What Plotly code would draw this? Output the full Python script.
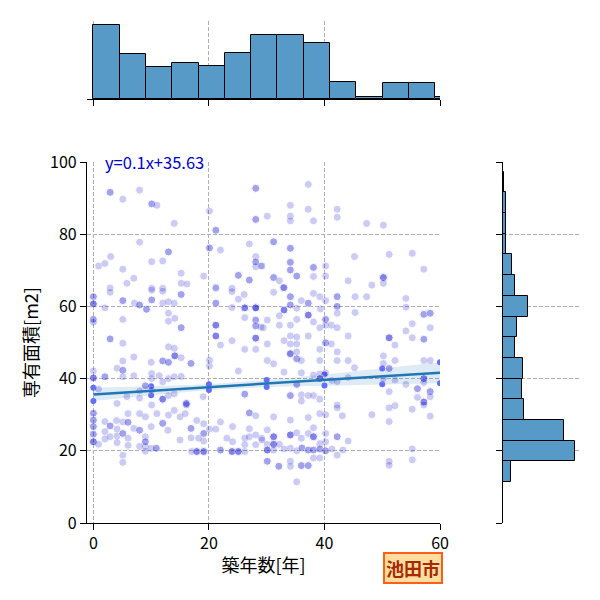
import plotly.graph_objects as go

# scatter: building age [years] vs floor area [m2]
age_years = [
    2.9, 2.9, 5.1, 8.0, 10.1, 10.1, 11.0, 14.0, 20.1, 21.2, 21.2, 28.1, 28.1, 28.1, 28.1,
    8.0, 13.0, 13.0, 20.1, 20.1, 22.0, 27.0, 28.1, 28.1, 28.1, 28.1, 29.0,
    0.9, 2.0, 3.0, 5.1, 10.1, 12.0, 7.0, 5.8, 15.2, 15.2, 16.2, 19.1, 25.1, 25.1, 27.0, 27.0,
    21.2, 24.0, 10.1, 12.0, 2.9,
    37.2, 34.1, 37.2, 30.1, 34.1, 34.1, 38.1, 42.2, 42.2, 47.3, 50.2,
    31.2, 31.2, 34.1, 34.1, 45.2, 51.2, 55.2, 57.2,
    29.2, 34.1, 34.1, 34.1, 34.1, 35.2, 35.2, 38.1, 38.1, 40.2, 38.1, 40.2,
    31.2, 31.2, 32.2, 44.1, 50.2, 50.2, 50.2, 50.2, 48.2, 33.0, 33.0,
    0, 0, 0, 0, 0, 0, 0, 0, 0, 0, 0, 0,
    2.9, 5.1, 5.1, 2.0, 7.1, 8.0, 8.0, 9.2, 9.2, 10.1, 10.1, 10.1, 12.0, 12.0, 13.0, 14.0,
    15.2, 15.2, 13.0, 14.1, 13.0, 15.2, 15.2, 5.1,
    2.9, 2.9, 5.1, 13.0, 14.0, 14.1, 14.1, 14.1, 12.0, 12.0, 13.0, 13.0, 15.2, 16.9, 16.9,
    7.0, 5.1, 10.0,
    4.1, 5.1, 5.1, 7.0, 5.1, 2.0, 2.0, 10.1, 10.1, 11.4, 13.0, 14.0, 15.2, 12.0, 9.0, 9.0,
    0.9, 8.0, 8.0, 5.8, 10.1,
    12.0, 12.0, 12.0, 13.0, 14.0, 16.1, 16.1, 16.1, 4.1, 10.1, 19.0, 20.1, 20.1,
    21.2, 21.2, 21.2, 21.2, 21.2, 21.2, 21.2, 21.2, 21.2, 22.0, 24.0, 25.1, 26.1, 24.0,
    26.2, 26.2, 26.2, 28.1, 28.1, 28.1, 28.1, 28.1, 28.1, 28.1, 28.1, 29.0, 26.2, 28.1,
    28.1, 28.1, 24.0, 26.2, 28.1, 25.1, 26.2, 26.2,
    31.2, 32.9, 34.1, 34.1, 36.0, 37.2, 37.2, 38.1, 39.2, 40.2, 42.2, 42.2, 42.2, 42.2,
    45.3, 47.3, 54.1, 54.1,
    33.0, 33.0, 33.0, 34.1, 34.1, 35.2, 37.2, 37.2, 37.2, 39.3, 42.2, 45.3, 57.2, 57.2,
    58.3, 58.3,
    30.1, 32.2, 32.2, 34.1, 35.2, 38.1, 39.2, 40.2, 40.2, 40.2, 41.2, 42.2, 29.4, 55.2,
    58.3, 54.1,
    51.2, 51.2, 51.2, 52.2, 55.2, 57.2, 57.2, 44.1, 37.2, 34.1, 35.2, 33.0, 34.1, 35.2,
    30.1, 40.2, 40.2, 41.2, 39.2, 42.2,
    34.1, 34.1, 34.1, 35.2, 35.2, 35.2, 36.0, 30.1, 31.2, 39.2, 42.2, 44.1, 45.2, 50.2,
    50.2, 51.2, 51.2, 52.2, 57.2, 58.3,
    33.0, 36.0, 38.1, 39.2, 40.2, 39.2, 39.2, 39.2, 41.3, 42.2, 44.1, 50.2, 52.2, 54.1,
    57.2, 57.2, 57.2, 57.2, 35.2, 35.2, 56.1, 56.1, 58.3, 58.3, 51.2,
    34.1, 34.1, 36.0, 37.2, 38.1, 39.2, 36.0, 42.2, 52.2, 56.1, 57.2, 57.2, 57.2, 58.3,
    0, 0, 0, 0, 0, 0, 0, 0, 0, 0, 0, 0.9,
    2.0, 2.0, 2.0, 2.9, 2.9, 2.9, 4.1, 4.1, 4.1, 5.1, 5.1, 5.1, 5.1, 5.1, 6.0, 6.0, 6.0,
    6.0, 7.0, 8.0, 8.0,
    9.0, 9.0, 9.0, 9.0, 9.0, 8.0, 10.0, 10.9, 10.9, 10.0, 12.0, 12.0, 12.9, 13.0, 14.0,
    15.0, 15.9, 16.1, 11.0, 9.0, 8.0, 6.0, 4.0,
    15.0, 16.9, 16.9, 16.9, 17.9, 19.1, 19.1, 19.1, 19.1, 17.9, 17.9, 17.9, 19.1, 19.1,
    19.1, 17.0, 18.2, 20.1, 21.2, 22.0,
    22.0, 22.0, 24.0, 24.0, 24.0, 25.1, 25.1, 25.1, 24.1, 23.1, 24.1, 26.2, 26.2, 27.0,
    27.0, 27.0, 27.0, 28.1, 28.1, 26.2, 28.1, 29.1,
    31.2, 34.1, 37.2, 39.2, 40.2, 42.2, 43.1, 48.2, 51.2, 51.2, 55.2, 57.2, 58.3,
    30.1, 31.2, 31.2, 31.2, 34.1, 34.1, 34.1, 35.2, 36.0, 37.2, 38.1, 38.1, 38.1, 38.1,
    39.2, 40.2, 40.2, 42.2, 42.2, 44.1,
    29.2, 30.1, 31.2, 31.2, 31.2, 32.2, 30.1, 30.1, 30.1, 31.2, 33.0, 34.1, 35.2, 36.1,
    36.1, 37.2, 37.2, 38.1, 38.1, 39.2, 39.2, 40.2, 40.2, 41.3, 42.2, 43.2,
    30.1, 30.1, 32.1, 32.1, 34.1, 34.1, 36.0, 36.0, 37.2, 37.2, 38.1, 39.2, 35.2, 51.2,
    51.2, 55.2, 55.2,
]
area_m2 = [
    91.6, 91.6, 89.7, 92.2, 88.4, 88.4, 88.0, 83.0, 86.4, 81.1, 81.1, 92.7, 92.7, 84.1, 84.1,
    77.8, 75.1, 75.1, 76.2, 76.2, 75.6, 77.3, 73.8, 72.3, 71.0, 72.3, 71.2,
    71.2, 71.9, 73.8, 70.3, 72.4, 72.6, 67.8, 66.4, 69.2, 66.4, 66.2, 68.4, 68.6, 68.6, 67.3, 67.3,
    65.3, 65.0, 65.0, 65.0, 65.1,
    93.8, 88.0, 86.9, 85.0, 85.0, 83.7, 83.7, 86.9, 84.7, 83.0, 82.5,
    77.9, 77.9, 76.1, 76.1, 73.8, 74.4, 74.7, 70.3,
    71.2, 72.2, 72.2, 70.1, 70.1, 68.4, 68.4, 70.8, 70.8, 71.2, 68.3, 68.4,
    68.0, 68.0, 67.1, 67.1, 68.0, 68.0, 68.0, 66.4, 65.9, 65.2, 65.2,
    62.7, 62.7, 60.7, 60.7, 60.7, 56.4, 56.4, 55.6, 42.1, 40.2, 40.2, 40.2,
    63.9, 61.6, 61.6, 59.6, 60.9, 60.4, 60.4, 59.2, 59.2, 61.8, 61.8, 64.5, 64.2, 60.9, 61.3, 60.9,
    63.3, 63.3, 58.1, 56.7, 55.9, 54.1, 54.1, 56.4,
    51.0, 51.0, 49.8, 48.8, 48.4, 46.3, 46.3, 46.3, 44.9, 44.9, 44.5, 44.5, 45.8, 44.2, 44.2,
    46.0, 44.9, 44.5,
    42.9, 42.3, 42.3, 40.8, 40.5, 40.5, 40.5, 41.4, 40.0, 40.8, 40.0, 40.5, 40.6, 39.1, 38.0, 38.0,
    37.1, 36.6, 34.6, 35.0, 36.8,
    34.3, 34.3, 34.3, 35.3, 35.8, 33.1, 33.1, 33.1, 33.1, 32.7, 35.0, 43.5, 45.1,
    65.0, 60.9, 60.9, 54.8, 54.8, 54.8, 51.8, 51.8, 51.8, 49.3, 64.1, 62.0, 63.3, 59.7,
    59.6, 59.6, 59.6, 59.6, 59.6, 59.6, 59.6, 56.2, 56.2, 54.6, 54.6, 54.3, 56.9, 51.2,
    51.2, 51.2, 50.5, 48.1, 48.1, 42.1, 35.7, 35.7,
    63.9, 65.2, 62.7, 62.7, 61.6, 60.9, 60.9, 63.6, 62.7, 61.6, 62.7, 62.7, 60.0, 60.0,
    62.7, 62.7, 62.2, 59.8,
    59.0, 59.0, 59.0, 60.4, 60.4, 59.5, 57.6, 57.6, 57.6, 59.3, 58.1, 58.3, 57.8, 57.8,
    58.1, 58.1,
    56.2, 57.4, 54.8, 54.8, 56.4, 55.7, 54.1, 56.4, 56.4, 54.8, 54.8, 54.1, 54.1, 55.2,
    54.1, 53.2,
    51.3, 51.3, 51.3, 49.3, 51.3, 50.9, 50.9, 51.8, 51.8, 51.8, 51.5, 50.5, 49.6, 49.6,
    49.6, 49.9, 49.9, 49.6, 48.1, 47.4,
    46.9, 46.9, 46.9, 47.4, 45.5, 45.5, 45.0, 45.0, 44.1, 45.0, 45.0, 45.0, 43.0, 46.3,
    44.2, 42.8, 42.8, 45.0, 45.0, 45.0,
    41.8, 41.6, 41.0, 41.3, 41.6, 40.0, 40.0, 40.0, 39.5, 39.2, 40.3, 40.0, 39.6, 38.4,
    40.0, 40.0, 40.0, 38.9, 38.4, 38.4, 37.2, 37.2, 36.4, 36.4, 36.4,
    35.3, 35.3, 35.5, 35.3, 35.3, 34.3, 33.8, 32.7, 32.5, 34.8, 33.5, 33.5, 33.5, 35.0,
    30.4, 30.4, 28.5, 28.5, 26.7, 26.7, 24.6, 24.6, 22.5, 22.5, 22.5, 21.8,
    28.1, 25.3, 23.3, 26.9, 26.9, 23.9, 26.0, 24.1, 22.3, 28.0, 24.8, 24.8, 18.8, 16.8, 27.9, 27.9, 23.5,
    21.5, 26.2, 25.7, 25.7,
    23.9, 22.5, 21.2, 19.9, 22.5, 21.2, 20.7, 20.7, 20.7, 26.7, 27.6, 27.6, 25.7, 29.9, 31.2,
    29.4, 30.3, 32.7, 30.3, 29.4, 30.3, 30.3, 28.4,
    23.0, 26.2, 26.2, 23.6, 28.4, 27.5, 24.8, 24.8, 22.7, 19.8, 19.8, 19.8, 19.8, 19.8,
    19.8, 19.8, 23.5, 26.0, 26.0, 28.0,
    20.2, 20.2, 19.8, 19.8, 19.8, 19.8, 19.8, 19.8, 26.7, 23.5, 22.5, 23.5, 21.7, 30.5,
    30.5, 26.1, 23.9, 24.4, 21.7, 19.8, 29.7, 23.5,
    29.4, 28.5, 29.2, 30.3, 30.0, 31.9, 29.7, 30.0, 31.9, 28.1, 31.5, 32.7, 29.6,
    25.8, 23.9, 23.9, 23.9, 24.4, 24.4, 24.4, 25.0, 23.5, 24.8, 26.4, 23.9, 23.9, 23.9,
    22.0, 24.8, 22.5, 23.9, 23.9, 22.7,
    23.0, 21.8, 21.8, 21.8, 21.8, 21.8, 20.2, 20.2, 20.2, 20.2, 20.5, 20.7, 20.0, 20.8,
    20.8, 20.2, 20.2, 20.2, 20.2, 20.5, 20.5, 20.0, 20.0, 20.5, 18.8, 20.2,
    17.1, 17.1, 15.7, 15.7, 17.1, 15.7, 15.9, 15.9, 15.9, 15.9, 18.0, 18.0, 11.4, 17.1,
    16.0, 20.5, 17.5,
]

# marginal histograms (counts per bin)
age_bin_start = 0.0
age_bin_width = 4.55
age_counts = [60, 36, 26, 29, 27, 37, 52, 52, 45, 14, 2, 13, 13, 2]

area_bin_start = 11.3
area_bin_width = 5.735
area_counts = [11, 105, 89, 31, 27, 29, 17, 20, 36, 17, 13, 4, 4, 4, 1]

# regression y = slope*x + intercept, with confidence band half widths
slope = 0.1
intercept = 35.63
ci_x = [0, 10, 20, 30, 40, 50, 60]
ci_half = [1.85, 1.22, 0.82, 0.98, 1.53, 2.2, 2.9]

FONT = "Noto Sans CJK JP"
BAR_COLOR = "#5799c7"
GRID = dict(showgrid=True, gridcolor="#b0b0b0", griddash="4px,2px", gridwidth=1)
LINE = dict(showline=True, linecolor="black", linewidth=1.25,
            ticks="outside", ticklen=6, tickwidth=1.25, tickcolor="black",
            zeroline=False, automargin=False)

fig = go.Figure()

# confidence band
lo = [slope * x + intercept - h for x, h in zip(ci_x, ci_half)]
hi = [slope * x + intercept + h for x, h in zip(ci_x, ci_half)]
fig.add_trace(go.Scatter(x=ci_x + ci_x[::-1], y=hi + lo[::-1], fill="toself",
                         fillcolor="rgba(31,119,180,0.15)", line=dict(width=0),
                         hoverinfo="skip", showlegend=False))

fig.add_trace(go.Scatter(x=age_years, y=area_m2, mode="markers",
                         marker=dict(color="mediumblue", size=8, opacity=0.2,
                                     line=dict(color="white", width=1)),
                         showlegend=False))

fig.add_trace(go.Scatter(x=[0, 60], y=[intercept, slope * 60 + intercept], mode="lines",
                         line=dict(color="#1f77b4", width=2.5), showlegend=False))

# top histogram
age_centers = [age_bin_start + (i + 0.5) * age_bin_width for i in range(len(age_counts))]
fig.add_trace(go.Bar(x=age_centers, y=age_counts, width=age_bin_width,
                     marker=dict(color=BAR_COLOR, line=dict(color="black", width=1)),
                     xaxis="x2", yaxis="y2", showlegend=False))

# right histogram
area_centers = [area_bin_start + (i + 0.5) * area_bin_width for i in range(len(area_counts))]
fig.add_trace(go.Bar(y=area_centers, x=area_counts, width=area_bin_width, orientation="h",
                     marker=dict(color=BAR_COLOR, line=dict(color="black", width=1)),
                     xaxis="x3", yaxis="y3", showlegend=False))

# the page puts the figure 8px in from the top left, so the margins allow for that
fig.update_layout(
    width=600, height=600,
    margin=dict(l=79, r=29, t=13, b=85, autoexpand=False),
    paper_bgcolor="white", plot_bgcolor="white",
    font=dict(family=FONT, size=16, color="black"),
    bargap=0,
    xaxis=dict(domain=[0, 0.7175], range=[-1.1, 60], tickvals=[0, 20, 40, 60],
               title=dict(text="築年数[年]", font=dict(size=18), standoff=6),
               anchor="y", **GRID, **LINE),
    yaxis=dict(domain=[0, 0.7191], range=[0, 100], tickvals=[0, 20, 40, 60, 80, 100],
               title=dict(text="専有面積[m2]", font=dict(size=18), standoff=6),
               anchor="x", **GRID, **LINE),
    xaxis2=dict(domain=[0, 0.7175], range=[-1.1, 60], tickvals=[0, 20, 40, 60],
                showticklabels=False, anchor="y2", **GRID, **LINE),
    yaxis2=dict(domain=[0.8446, 1.0], range=[0, 63], visible=False, anchor="x2"),
    xaxis3=dict(domain=[0.8455, 1.0], range=[0, 110.25], visible=False, anchor="y3"),
    yaxis3=dict(domain=[0, 0.7191], range=[0, 100], tickvals=[0, 20, 40, 60, 80, 100],
                showticklabels=False, anchor="x3", **GRID, **LINE),
    annotations=[
        dict(text="y=0.1x+35.63", x=1.7, y=100, xref="x", yref="y",
             xanchor="left", yanchor="middle", showarrow=False,
             font=dict(family=FONT, size=16.5, color="mediumblue")),
        dict(text="<b>池田市</b>", x=0.6616, y=-0.089, xref="paper", yref="paper",
             xanchor="center", yanchor="middle", showarrow=False,
             font=dict(family=FONT, size=18, color="#a52a00"),
             bgcolor="#ffdca0", bordercolor="#ff5f15", borderwidth=2, borderpad=1),
    ],
)

fig.write_html("out.html")
